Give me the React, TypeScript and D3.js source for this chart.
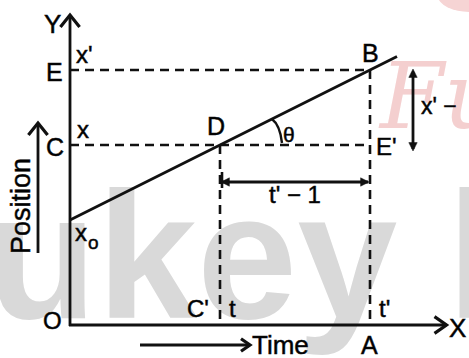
import React from "react";
import * as d3 from "d3";

// ---- data (time units / position units) ----
const lineTimes = [0, 5, 10, 10.9];
const linePositions = [3.5, 6, 8.5, 8.95];
const timeMarks = [5, 10]; // t, t'
const timeMarkLabels = ["t", "t'"];
const timeFootLabels = ["C'", "A"];
const positionMarks = [8.5, 6, 3.5]; // x', x, x0
const positionLetters = ["E", "C", ""];
const axisMax = { time: 12.55, position: 10.33 };

const W = 469;
const H = 358;

export default function App() {
  const xs = d3.scaleLinear().domain([0, 10]).range([70, 370]);
  const ys = d3.scaleLinear().domain([0, 10]).range([325, 25]);

  const line = d3
    .line<number>()
    .x((_, i) => xs(lineTimes[i]))
    .y((d) => ys(d));

  const ox = xs(0);
  const oy = ys(0);
  const xEnd = xs(axisMax.time);
  const yEnd = ys(axisMax.position);
  const font = "'Liberation Sans', Arial, sans-serif";
  const stroke = "#111";

  const tD = timeMarks[0];
  const tB = timeMarks[1];
  const xC = positionMarks[1];
  const xE = positionMarks[0];

  const slopeAngle = Math.atan2(ys(xC) - ys(xE), xs(tB) - xs(tD));
  const r = 58;
  const arcStart = [xs(tD) + r * Math.cos(slopeAngle), ys(xC) - r * Math.sin(slopeAngle)];
  const arcEnd = [xs(tD) + r + 4, ys(xC) - 2];

  const tri = (x: number, y: number, dir: "l" | "r" | "u" | "d", s = 7) => {
    let pts: number[][] = [];
    if (dir === "r") pts = [[x, y], [x - s * 1.4, y - s * 0.7], [x - s * 1.4, y + s * 0.7]];
    if (dir === "l") pts = [[x, y], [x + s * 1.4, y - s * 0.7], [x + s * 1.4, y + s * 0.7]];
    if (dir === "u") pts = [[x, y], [x - s * 0.7, y + s * 1.4], [x + s * 0.7, y + s * 1.4]];
    if (dir === "d") pts = [[x, y], [x - s * 0.7, y - s * 1.4], [x + s * 0.7, y - s * 1.4]];
    return <polygon points={pts.map((p) => p.join(",")).join(" ")} fill={stroke} />;
  };

  const chevron = (x: number, y: number, dir: "u" | "r", s = 12) =>
    dir === "u" ? (
      <polyline points={`${x - s * 0.8},${y + s} ${x},${y} ${x + s * 0.8},${y + s}`} fill="none" stroke={stroke} strokeWidth={3.2} strokeLinejoin="miter" />
    ) : (
      <polyline points={`${x - s},${y - s * 0.7} ${x},${y} ${x - s},${y + s * 0.7}`} fill="none" stroke={stroke} strokeWidth={3.2} strokeLinejoin="miter" />
    );

  const dash = "9 6";

  return (
    <svg width={W} height={H} style={{ position: "absolute", left: 0, top: 0, background: "#fff" }} fontFamily={font}>
      <rect width={W} height={H} fill="#fff" />
      {/* watermark */}
      <text x={-13} y={318} fontSize={180} fontWeight="bold" fill="#d9d9d9">ukey</text>
      <text x={447} y={318} fontSize={180} fontWeight="bold" fill="#d9d9d9">l</text>
      <text x={380} y={128} fontSize={92} fontStyle="italic" fontFamily="'DejaVu Serif', serif" fill="#f3caca" opacity={0.9}>Fu</text>
      <ellipse cx={470} cy={-4} rx={32} ry={16} fill="#f6d4d4" />

      <g stroke={stroke} strokeWidth={0.5}>
        {/* dashed guides */}
        {positionMarks.slice(0, 2).map((p, i) => (
          <line key={"h" + i} x1={ox} x2={xs(tB)} y1={ys(p)} y2={ys(p)} stroke={stroke} strokeWidth={2.6} strokeDasharray={dash} />
        ))}
        {timeMarks.map((t, i) => (
          <line key={"v" + i} x1={xs(t)} x2={xs(t)} y1={ys(i === 0 ? xC : xE)} y2={oy} stroke={stroke} strokeWidth={2.6} strokeDasharray={dash} />
        ))}

        {/* axes */}
        <line x1={ox} y1={oy + 1} x2={ox} y2={yEnd} stroke={stroke} strokeWidth={2.8} />
        <line x1={ox - 1} y1={oy} x2={xEnd} y2={oy} stroke={stroke} strokeWidth={2.8} />
        {chevron(ox, yEnd, "u")}
        {chevron(xEnd, oy, "r")}

        {/* position-time line */}
        <path d={line(linePositions) || ""} fill="none" stroke={stroke} strokeWidth={2.8} />

        {/* theta arc */}
        <path d={`M${arcStart[0]},${arcStart[1]} Q${arcEnd[0] - 2},${arcStart[1] + 6} ${arcEnd[0]},${arcEnd[1]}`} fill="none" stroke={stroke} strokeWidth={2.4} />
        <text x={283} y={142} fontSize={21}>θ</text>

        {/* t' - 1 arrow */}
        <line x1={xs(tD) + 2} x2={xs(tB) - 2} y1={182} y2={182} stroke={stroke} strokeWidth={2.8} />
        {tri(xs(tD) + 1, 182, "l", 6)}
        {tri(xs(tB) - 1, 182, "r", 6)}
        <line x1={xs(tD) + 2} x2={xs(tD) + 2} y1={172} y2={188} stroke={stroke} strokeWidth={2.6} />
        <text x={(xs(tD) + xs(tB)) / 2} y={203} fontSize={24} textAnchor="middle">t' − 1</text>

        {/* x' - x arrow */}
        <line x1={413} x2={413} y1={ys(xE) + 2} y2={ys(xC) + 4} stroke={stroke} strokeWidth={2.8} />
        {tri(413, ys(xE) - 1, "u", 6)}
        {tri(413, ys(xC) + 6, "d", 6)}
        <text x={421} y={114} fontSize={23}>x' −</text>

        {/* Position arrow */}
        <line x1={38} x2={38} y1={253} y2={124} stroke={stroke} strokeWidth={2.8} />
        {chevron(38, 123, "u")}
        <text transform="translate(30,254) rotate(-90)" fontSize={27}>Position</text>

        {/* Time arrow */}
        <line x1={140} x2={250} y1={345} y2={345} stroke={stroke} strokeWidth={2.8} />
        {chevron(250, 345, "r", 9)}
        <text x={252} y={354} fontSize={26}>Time</text>

        {/* labels */}
        <text x={44} y={33} fontSize={26}>Y</text>
        <text x={449} y={337} fontSize={26}>X</text>
        <text x={43} y={329} fontSize={24}>O</text>
        {positionLetters.map((l, i) =>
          l ? (
            <text key={"pl" + i} x={46} y={ys(positionMarks[i]) + 11} fontSize={25}>{l}</text>
          ) : null
        )}
        <text x={76} y={63} fontSize={24}>x'</text>
        <text x={77} y={138} fontSize={24}>x</text>
        <text x={75} y={241} fontSize={24}>x</text>
        <text x={88} y={249} fontSize={19}>o</text>
        <text x={207} y={135} fontSize={25}>D</text>
        <text x={362} y={62} fontSize={25}>B</text>
        <text x={376} y={155} fontSize={24}>E'</text>
        {timeMarks.map((t, i) => (
          <text key={"tl" + i} x={xs(t) + 9} y={317} fontSize={24}>{timeMarkLabels[i]}</text>
        ))}
        <text x={xs(timeMarks[0]) - 33} y={317} fontSize={24}>{timeFootLabels[0]}</text>
        <text x={xs(timeMarks[1]) - 9} y={354} fontSize={25}>{timeFootLabels[1]}</text>
      </g>
    </svg>
  );
}
